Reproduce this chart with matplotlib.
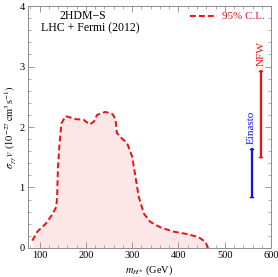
import numpy as np
import matplotlib
matplotlib.use("Agg")
import matplotlib.pyplot as plt
from matplotlib.ticker import MultipleLocator

plt.rcParams['font.family'] = ['Liberation Serif', 'DejaVu Serif']
plt.rcParams['mathtext.fontset'] = 'stix'

# 95% C.L. upper limit curve (m_H+ in GeV, sigma v in 1e-27 cm^3/s)
m_h = [84, 95, 113, 127, 136, 138, 139.5, 143, 147, 156, 178, 195, 208, 217,
       224, 242, 258, 264, 267, 275, 289, 300, 307, 314, 325, 339, 361, 389,
       418, 443, 458, 464]
sigv = [0.12, 0.27, 0.40, 0.55, 0.68, 0.90, 1.34, 1.73, 2.06, 2.18, 2.13, 2.12,
        2.04, 2.09, 2.20, 2.25, 2.21, 2.12, 1.90, 1.83, 1.73, 1.51, 1.18, 0.85,
        0.57, 0.43, 0.34, 0.27, 0.23, 0.18, 0.10, 0.0]

# galactic-centre line ranges for the two profiles
profiles = ['Einasto', 'NFW']
prof_x = [558, 578]
prof_lo = [0.84, 1.51]
prof_hi = [1.64, 2.93]
prof_col = ['#1010ee', '#ee1010']

fig = plt.figure(figsize=(2.78, 2.77), dpi=100)
ax = fig.add_axes([0.101, 0.105, 0.874, 0.873])

ax.fill_between(m_h, sigv, 0, color='#fde6e6', lw=0)
ax.plot(m_h, sigv, color='#ee1010', ls=(0, (3, 1.6)), lw=1.4)

for name, x, lo, hi, c in zip(profiles, prof_x, prof_lo, prof_hi, prof_col):
    ax.plot([x, x], [lo, hi], color=c, lw=1.6)
    ax.plot([x - 3, x + 3], [lo, lo], color=c, lw=1.0)
    ax.plot([x - 3, x + 3], [hi, hi], color=c, lw=1.0)
    ax.text(x, hi + 0.08, name, color=c, rotation=90, ha='center', va='bottom',
            fontsize=8)

ax.text(0.226, 0.958, '2HDM\u2212S', transform=ax.transAxes, ha='center',
        va='center', fontsize=8.5)
ax.text(0.255, 0.908, 'LHC + Fermi (2012)', transform=ax.transAxes, ha='center',
        va='center', fontsize=8.5)

# legend-like entry
ax.plot([0.667, 0.778], [0.958, 0.958], transform=ax.transAxes,
        color='#ee1010', ls=(0, (3, 1.6)), lw=1.4)
ax.text(0.80, 0.958, '95% C.L.', transform=ax.transAxes, color='#ee1010',
        ha='left', va='center', fontsize=8)

ax.set_xlim(75, 600)
ax.set_ylim(0, 4)
ax.xaxis.set_major_locator(MultipleLocator(100))
ax.xaxis.set_minor_locator(MultipleLocator(20))
ax.yaxis.set_major_locator(MultipleLocator(1))
ax.yaxis.set_minor_locator(MultipleLocator(0.2))
ax.tick_params(which='both', direction='in', top=True, right=True,
               colors='0.55', labelcolor='black', labelsize=7.5)
ax.tick_params(which='major', length=4, width=0.6, pad=2.5)
ax.tick_params(which='minor', length=2, width=0.5)
for s in ax.spines.values():
    s.set_color('0.55')
    s.set_linewidth(0.7)

ax.set_xlabel(r'$m_{H^{\pm}}$ (GeV)', fontsize=7.5, labelpad=2)
ax.set_ylabel(r'$\sigma_{\gamma\gamma}\,v$ $(10^{-27}\,\mathrm{cm}^3\mathrm{s}^{-1})$',
              fontsize=7.5, labelpad=1)

fig.savefig('out.png', dpi=100)
